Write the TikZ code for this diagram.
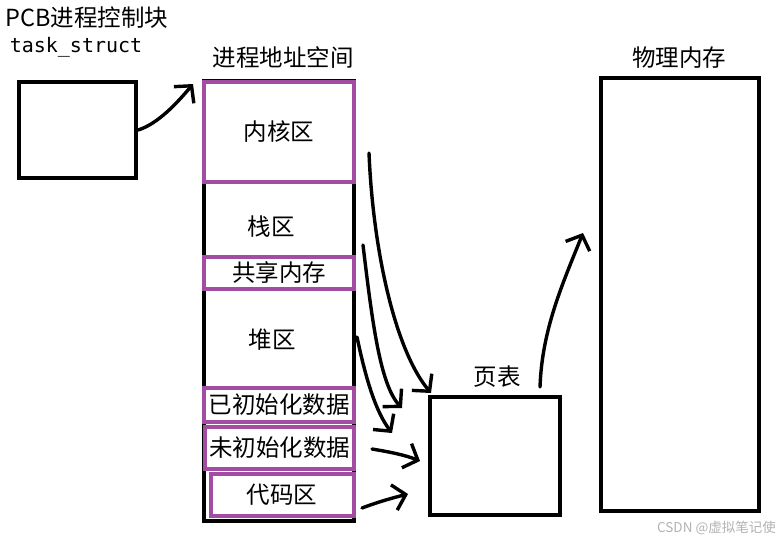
\documentclass[tikz,border=0pt]{standalone}
\usepackage{fontspec}
\setmainfont{Noto Sans CJK SC}
\setmonofont{DejaVu Sans Mono}
\usepackage{xcolor}
\usetikzlibrary{arrows.meta, positioning}

\definecolor{segpurple}{RGB}{163,76,163}

\begin{document}
\begin{tikzpicture}[
    x=1pt, y=-1pt,
    box/.style={draw, line width=4pt, inner sep=0pt},
    seg/.style={box, draw=segpurple},
    label/.style={inner sep=0pt, font=\fontsize{23.5}{27}\selectfont},
    hand/.style={line width=3.4pt, line cap=round, line join=round,
                 -{Straight Barb[length=12pt, width=26pt]}},
]
    \useasboundingbox (0,0) rectangle (783,542);

    % PCB
    \node[label, anchor=west] (pcbtitle) at (5,18) {PCB进程控制块};
    \node[inner sep=0pt, font=\ttfamily\fontsize{20}{22}\selectfont] (task) at (76,47) {task\_struct};
    \node[box, minimum width=117pt, minimum height=96pt] (pcb) at (77.5,130) {};

    % process address space
    \node[label] (spacetitle) at (283,57) {进程地址空间};
    \node[box, minimum width=150pt, minimum height=440pt] (space) at (279,301) {};
    \node[seg, minimum width=150pt, minimum height=100pt] (kernel) at (279,132) {};
    \node[label] at (kernel) {内核区};
    \node[label] (stack) at (271,227) {栈区};
    \node[seg, minimum width=150pt, minimum height=32pt] (shared) at (279,273) {};
    \node[label] at (shared) {共享内存};
    \node[label] (heap) at (272,340) {堆区};
    \node[seg, minimum width=150pt, minimum height=34pt] (inited) at (279,405) {};
    \node[label] at (inited) {已初始化数据};
    \node[seg, minimum width=149pt, minimum height=42pt] (uninit) at (279.5,448) {};
    \node[label] at (uninit) {未初始化数据};
    \node[seg, minimum width=143pt, minimum height=42pt] (code) at (282,495) {};
    \node[label] at (code) {代码区};

    % page table
    \node[box, minimum width=130pt, minimum height=118pt] (pt) at (495,456) {};
    \node[label] (pttitle) at (497,377) {页表};

    % physical memory
    \node[label] (memtitle) at (679,58) {物理内存};
    \node[box, minimum width=158pt, minimum height=433pt] (mem) at (680,294.5) {};

    \node[inner sep=0pt, text=black!30, font=\fontsize{13.5}{15}\selectfont,
          anchor=east] (mark) at (776,528) {CSDN @虚拟笔记使};

    % free ends of the hand drawn arrows
    \coordinate (pcbtip) at (193,84);
    \coordinate (kfrom) at (369,153);
    \coordinate (kto) at (431,393);
    \coordinate (sfrom) at (363,245);
    \coordinate (sto) at (402,408);
    \coordinate (hfrom) at (357,337);
    \coordinate (hto) at (392,433);
    \coordinate (ufrom) at (372,449);
    \coordinate (uto) at (420,461);
    \coordinate (cfrom) at (362,508);
    \coordinate (cto) at (408,494);
    \coordinate (ptfrom) at (540,387);
    \coordinate (memto) at (583,233);

    \draw[hand] (pcb.east) .. controls (158,124) and (178,102) .. (pcbtip);
    \draw[hand] (kfrom) .. controls (373,250) and (395,350) .. (kto);
    \draw[hand] (sfrom) .. controls (372,320) and (380,385) .. (sto);
    \draw[hand] (hfrom) .. controls (366,380) and (376,412) .. (hto);
    \draw[hand] (ufrom) .. controls (390,452) and (405,455) .. (uto);
    \draw[hand] (cfrom) .. controls (378,502) and (392,498) .. (cto);
    \draw[hand] (ptfrom) .. controls (542,330) and (562,285) .. (memto);
\end{tikzpicture}
\end{document}
